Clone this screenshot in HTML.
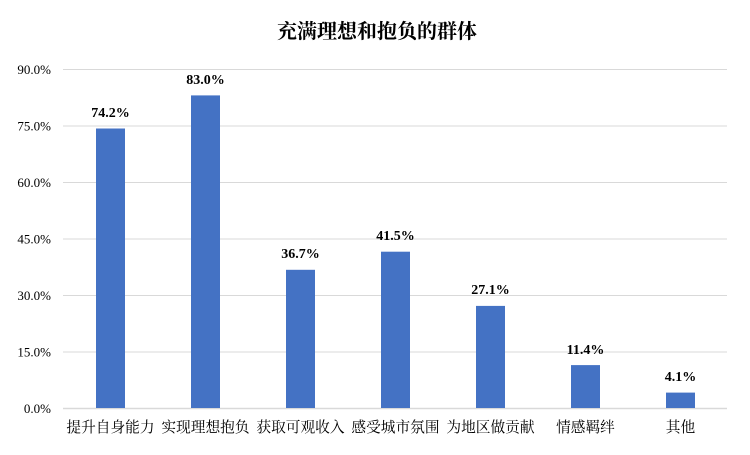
<!DOCTYPE html>
<html><head><meta charset="utf-8"><style>
body{margin:0;background:#fff;}
svg text{font-family:"Liberation Serif","Noto Serif CJK SC",serif;}
</style></head><body>
<svg width="750" height="450" xmlns="http://www.w3.org/2000/svg">
<rect width="750" height="450" fill="#fff"/>
<text x="377" y="38" text-anchor="middle" font-size="20" font-weight="bold" fill="#000">充满理想和抱负的群体</text>
<g stroke="#d9d9d9" stroke-width="1">
<line x1="63" x2="727" y1="69.5" y2="69.5"/>
<line x1="63" x2="727" y1="126" y2="126"/>
<line x1="63" x2="727" y1="182.5" y2="182.5"/>
<line x1="63" x2="727" y1="239" y2="239"/>
<line x1="63" x2="727" y1="295.5" y2="295.5"/>
<line x1="63" x2="727" y1="352" y2="352"/>
<line x1="63" x2="727" y1="408.5" y2="408.5" stroke-width="1.5"/>
</g>
<g font-size="13" fill="#000" text-anchor="end">
<text x="51" y="74">90.0%</text>
<text x="51" y="130.5">75.0%</text>
<text x="51" y="187">60.0%</text>
<text x="51" y="243.5">45.0%</text>
<text x="51" y="300">30.0%</text>
<text x="51" y="356.5">15.0%</text>
<text x="51" y="413">0.0%</text>
</g>
<g fill="#4472c4">
<rect x="96" y="128.5" width="29" height="279.5"/>
<rect x="191" y="95.4" width="29" height="312.6"/>
<rect x="286" y="269.8" width="29" height="138.2"/>
<rect x="381" y="251.7" width="29" height="156.3"/>
<rect x="476" y="305.9" width="29" height="102.1"/>
<rect x="571" y="365.1" width="29" height="42.9"/>
<rect x="666" y="392.6" width="29" height="15.4"/>
</g>
<g font-size="14" font-weight="bold" fill="#000" text-anchor="middle">
<text x="110.5" y="117">74.2%</text>
<text x="205.5" y="84">83.0%</text>
<text x="300.5" y="258">36.7%</text>
<text x="395.5" y="240">41.5%</text>
<text x="490.5" y="294">27.1%</text>
<text x="585.5" y="354">11.4%</text>
<text x="680.5" y="381">4.1%</text>
</g>
<g font-size="14.7" fill="#000" text-anchor="middle">
<text x="110.5" y="432">提升自身能力</text>
<text x="205.5" y="432">实现理想抱负</text>
<text x="300.5" y="432">获取可观收入</text>
<text x="395.5" y="432">感受城市氛围</text>
<text x="490.5" y="432">为地区做贡献</text>
<text x="585.5" y="432">情感羁绊</text>
<text x="680.5" y="432">其他</text>
</g>
</svg>
</body></html>
